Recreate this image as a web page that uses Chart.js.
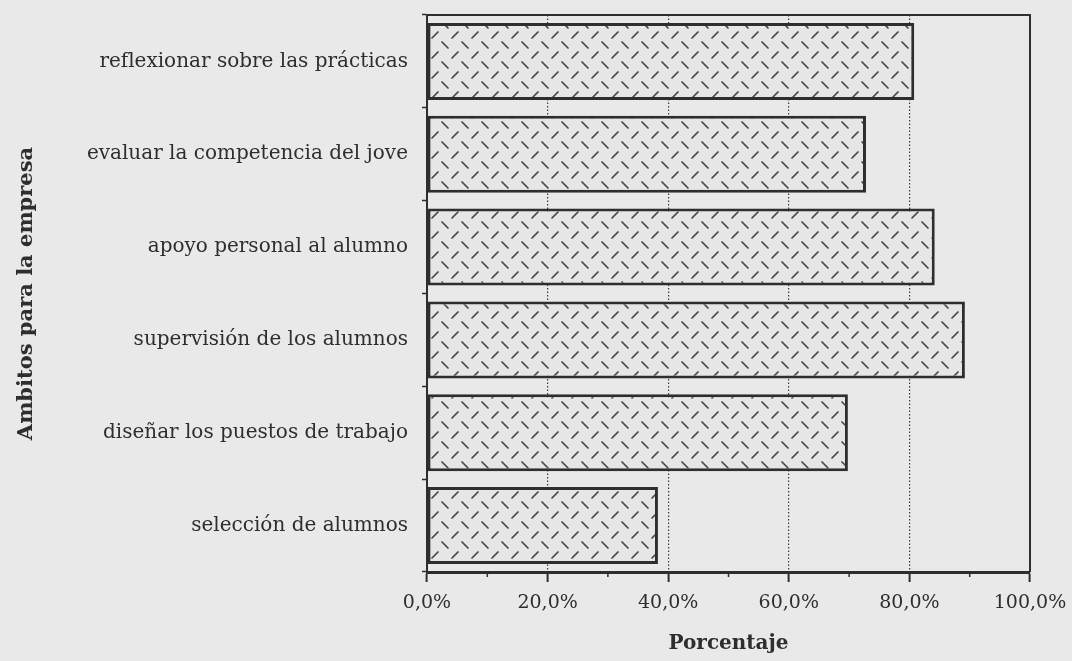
<!DOCTYPE html>
<html lang="es">
<head>
<meta charset="utf-8">
<title>Ambitos para la empresa</title>
<script src="https://cdn.jsdelivr.net/npm/chart.js@4/dist/chart.umd.min.js"></script>
<style>
  html, body { margin: 0; padding: 0; background: #e9e9e9; }
  #wrap { width: 1072px; height: 661px; position: relative; }
</style>
</head>
<body>
<div id="wrap"><canvas id="grafico"></canvas></div>
<script>
// datos
const categorias = [
  "reflexionar sobre las prácticas",
  "evaluar la competencia del jove",
  "apoyo personal al alumno",
  "supervisión de los alumnos",
  "diseñar los puestos de trabajo",
  "selección de alumnos"
];
const porcentajes = [80.8, 72.8, 84.2, 89.2, 69.8, 38.3];
const marcasX = [0, 20, 40, 60, 80, 100];
const marcasMenores = [10, 30, 50, 70, 90];

const TINTA = "#2e2e2e";
const SERIF = "'DejaVu Serif', serif";

// trama de guiones cruzados para el relleno de las barras
function makeHatch() {
  const c = document.createElement("canvas");
  c.width = 20; c.height = 20;
  const g = c.getContext("2d");
  g.fillStyle = "#e6e6e6";
  g.fillRect(0, 0, 20, 20);
  g.strokeStyle = "#474747";
  g.lineWidth = 1.7;
  g.lineCap = "round";
  g.beginPath();
  g.moveTo(2, 2);  g.lineTo(8, 8);      // "\"
  g.moveTo(12, 18); g.lineTo(18, 12);   // "/"
  g.stroke();
  return g.createPattern(c, "repeat");
}

// marco superior/derecho y marcas menores del eje x
const marcoPlugin = {
  id: "marco",
  afterDraw(chart) {
    const { ctx, chartArea: a, scales: { x } } = chart;
    ctx.save();
    ctx.strokeStyle = TINTA;
    ctx.lineWidth = 2;
    ctx.beginPath();
    ctx.moveTo(a.left, a.top);
    ctx.lineTo(a.right, a.top);
    ctx.lineTo(a.right, a.bottom);
    ctx.stroke();
    ctx.lineWidth = 1.5;
    ctx.beginPath();
    marcasMenores.forEach(v => {
      const px = x.getPixelForValue(v);
      ctx.moveTo(px, a.bottom);
      ctx.lineTo(px, a.bottom + 5);
    });
    ctx.stroke();
    ctx.restore();
  }
};

new Chart(document.getElementById("grafico"), {
  type: "bar",
  data: {
    labels: categorias,
    datasets: [{
      data: porcentajes,
      backgroundColor: makeHatch(),
      borderColor: TINTA,
      borderWidth: 3,
      borderSkipped: false,
      barPercentage: 0.83,
      categoryPercentage: 1
    }]
  },
  options: {
    indexAxis: "y",
    responsive: true,
    maintainAspectRatio: false,
    animation: false,
    layout: { padding: { top: 15, right: 42, left: 0, bottom: 0 } },
    plugins: {
      legend: { display: false },
      tooltip: { enabled: false }
    },
    scales: {
      x: {
        min: 0,
        max: 100,
        afterBuildTicks: s => { s.ticks = marcasX.map(v => ({ value: v })); },
        afterFit: s => {
          s.height = 89;
          s.paddingLeft = 0;
          s.paddingRight = 0;
        },
        ticks: {
          color: TINTA,
          padding: 10,
          font: { family: SERIF, size: 19 },
          callback: v => v.toFixed(1).replace(".", ",") + "%"
        },
        grid: {
          color: "#3a3a3a",
          lineWidth: 1.2,
          tickLength: 10,
          tickColor: TINTA,
          tickWidth: 2,
          tickBorderDash: []
        },
        border: { color: TINTA, width: 3, dash: [1.5, 2] },
        title: {
          display: true,
          text: "Porcentaje",
          color: TINTA,
          font: { family: SERIF, size: 20, weight: "bold" },
          padding: { top: 0, bottom: 5 }
        }
      },
      y: {
        afterFit: s => {
          s.width = 427;
          s.paddingTop = 0;
          s.paddingBottom = 0;
        },
        ticks: {
          color: TINTA,
          padding: 14,
          font: { family: SERIF, size: 20 }
        },
        grid: {
          drawOnChartArea: false,
          tickLength: 5,
          tickColor: TINTA,
          tickWidth: 1.5
        },
        border: { color: TINTA, width: 2 },
        title: {
          display: true,
          text: "Ambitos para la empresa",
          color: TINTA,
          font: { family: SERIF, size: 21, weight: "bold" },
          padding: { top: 14, bottom: 0 }
        }
      }
    }
  },
  plugins: [marcoPlugin]
});
</script>
</body>
</html>
